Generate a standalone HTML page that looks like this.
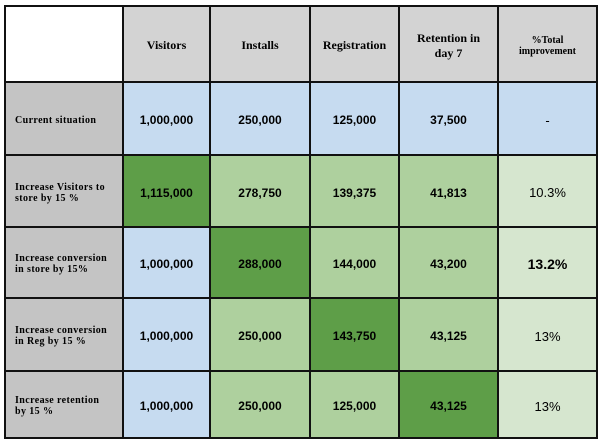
<!DOCTYPE html><html><head><style>
body{margin:0;width:603px;height:442px;background:#fff;position:relative;overflow:hidden}
.c{position:absolute;display:flex;align-items:center;justify-content:center;text-align:center;box-sizing:border-box;border-right:2px solid #111;border-bottom:2px solid #111;padding-top:3px}
.h{font:bold 12px "Liberation Serif",serif;background:#d3d3d3}
.l{font:bold 10px "Liberation Serif",serif;background:#c4c4c4;justify-content:flex-start;text-align:left;padding-left:9px;letter-spacing:.4px}
.n{font:bold 12px "Liberation Sans",sans-serif}
.p{font:13px "Liberation Sans",sans-serif}
.b{background:#c6dbf0}.g{background:#aed09e}.d{background:#5e9e48}.e{background:#d6e6cf}
</style></head><body>
<div style="position:absolute;left:4px;top:5px;width:594px;height:434px;border-left:2px solid #111;border-top:2px solid #111;box-sizing:border-box"></div>
<div id="t"></div>
<script>
var xs=[6,124,211,311,400,499,598],ys=[7,83,156,228,299,372,439];
var rows=[
[['h',''],['h','Visitors'],['h','Installs'],['h','Registration'],['h','Retention in<br>day 7'],['h','<span style="font-size:10px">%Total<br>improvement</span>']],
[['l','Current situation'],['n b','1,000,000'],['n b','250,000'],['n b','125,000'],['n b','37,500'],['p b','-']],
[['l','Increase Visitors to<br>store by 15 %'],['n d','1,115,000'],['n g','278,750'],['n g','139,375'],['n g','41,813'],['p e','10.3%']],
[['l','Increase conversion<br>in store by 15%'],['n b','1,000,000'],['n d','288,000'],['n g','144,000'],['n g','43,200'],['n e','<span style="font-size:14px">13.2%</span>']],
[['l','Increase conversion<br>in Reg by 15 %'],['n b','1,000,000'],['n g','250,000'],['n d','143,750'],['n g','43,125'],['p e','13%']],
[['l','Increase retention<br>by 15 %'],['n b','1,000,000'],['n g','250,000'],['n g','125,000'],['n d','43,125'],['p e','13%']]];
var h='';rows.forEach(function(r,i){r.forEach(function(c,j){var bg=(i==0&&j==0)?'background:#fff;':'';h+='<div class="c '+c[0]+'" style="'+bg+'left:'+xs[j]+'px;top:'+ys[i]+'px;width:'+(xs[j+1]-xs[j])+'px;height:'+(ys[i+1]-ys[i])+'px">'+c[1]+'</div>';});});
document.getElementById('t').innerHTML=h;
</script></body></html>
